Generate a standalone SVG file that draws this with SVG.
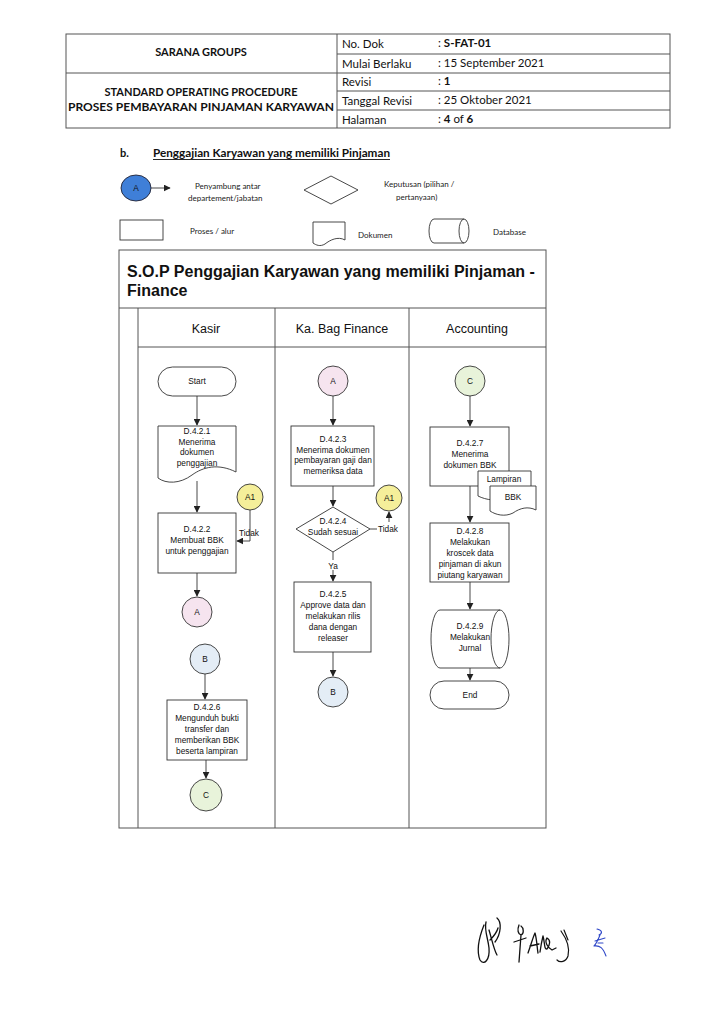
<svg xmlns="http://www.w3.org/2000/svg" width="719" height="1024" viewBox="0 0 719 1024">
<defs>
<marker id="ah" viewBox="0 0 10 10" refX="9" refY="5" markerWidth="7" markerHeight="7" orient="auto" markerUnits="userSpaceOnUse"><path d="M0,0 L10,5 L0,10 Z" fill="#222"/></marker>
<style>
.hd{font-family:Lato,"Open Sans","Liberation Sans",sans-serif;font-size:11.5px;fill:#111}
.hb{font-family:Lato,"Open Sans","Liberation Sans",sans-serif;font-size:11px;font-weight:bold;fill:#111}
.lg{font-family:Lato,"Open Sans","Liberation Sans",sans-serif;font-size:8px;fill:#222}
.ft{font-family:"Liberation Sans",Arial,sans-serif;font-size:8.3px;fill:#111;text-anchor:middle}
.fs{font-family:"Liberation Sans",Arial,sans-serif;font-size:8.3px;fill:#111;text-anchor:start}
.ln{font-family:"Liberation Sans",Arial,sans-serif;font-size:12.5px;fill:#111;text-anchor:middle}
.tb{stroke:#555;stroke-width:1;fill:none}
.sh{stroke:#333;stroke-width:0.9;fill:#fff}
.cn{stroke:#333;stroke-width:0.9;fill:none}
.ar{stroke:#333;stroke-width:0.9;fill:none;marker-end:url(#ah)}
</style>
</defs>
<rect width="719" height="1024" fill="#fff"/>
<g id="header">
<rect x="66" y="34" width="604" height="94" class="tb"/>
<line x1="337" y1="34" x2="337" y2="128" class="tb"/>
<line x1="66" y1="73" x2="670" y2="73" class="tb"/>
<line x1="337" y1="54" x2="670" y2="54" class="tb"/>
<line x1="337" y1="91" x2="670" y2="91" class="tb"/>
<line x1="337" y1="110" x2="670" y2="110" class="tb"/>
<text x="201" y="56" class="hb" text-anchor="middle">SARANA GROUPS</text>
<text x="201" y="96" class="hb" text-anchor="middle">STANDARD OPERATING PROCEDURE</text>
<text x="201" y="111" class="hb" text-anchor="middle" textLength="266" lengthAdjust="spacingAndGlyphs">PROSES PEMBAYARAN PINJAMAN KARYAWAN</text>
<text x="342" y="48" class="hd">No. Dok</text>
<text x="342" y="68" class="hd">Mulai Berlaku</text>
<text x="342" y="86" class="hd">Revisi</text>
<text x="342" y="105" class="hd">Tanggal Revisi</text>
<text x="342" y="124" class="hd">Halaman</text>
<text x="438" y="47" class="hd">: <tspan font-weight="bold">S-FAT-01</tspan></text>
<text x="438" y="67" class="hd">: 15 September 2021</text>
<text x="438" y="85" class="hd">: <tspan font-weight="bold">1</tspan></text>
<text x="438" y="104" class="hd">: 25 Oktober 2021</text>
<text x="438" y="123" class="hd">: <tspan font-weight="bold">4</tspan> of <tspan font-weight="bold">6</tspan></text>
</g>
<g id="subtitle">
<text x="120" y="157" class="hb" font-size="12">b.</text>
<text x="153" y="157" class="hb" font-size="12" textLength="237" lengthAdjust="spacingAndGlyphs">Penggajian Karyawan yang memiliki Pinjaman</text>
<line x1="153" y1="159.5" x2="390" y2="159.5" stroke="#111" stroke-width="0.9"/>
</g>
<g id="legend">
<ellipse cx="136" cy="188" rx="15" ry="13" fill="#3f7fd8" stroke="#223" stroke-width="0.9"/>
<text x="136" y="191" class="ft" font-size="7">A</text>
<line x1="151" y1="188" x2="170" y2="188" class="ar"/>
<text x="195" y="189" class="lg">Penyambung antar</text>
<text x="188" y="201" class="lg">departement/jabatan</text>
<path d="M304,190 L331,176 L358,190 L331,204 Z" class="sh"/>
<text x="384" y="187" class="lg">Keputusan (pilihan /</text>
<text x="396" y="200" class="lg">pertanyaan)</text>
<rect x="120" y="220" width="43" height="20" class="sh"/>
<text x="190" y="234" class="lg">Proses / alur</text>
<path d="M313,222 H345 V240 C338,236 330,240 325,244 C320,247 316,245 313,243 Z" class="sh"/>
<text x="358" y="238" class="lg">Dokumen</text>
<path d="M434,219 H464 A5,12 0 0 1 464,243 H434 A5,12 0 0 1 434,219 Z" class="sh"/>
<path d="M464,219 A5,12 0 0 0 464,243" class="cn"/>
<text x="493" y="235" class="lg">Database</text>
</g>
<g id="frame">
<rect x="119" y="250" width="427" height="578" class="tb" stroke="#444"/>
<line x1="119" y1="308" x2="546" y2="308" class="tb" stroke="#333"/>
<line x1="138" y1="347" x2="546" y2="347" class="tb"/>
<line x1="138" y1="308" x2="138" y2="828" class="tb"/>
<line x1="275" y1="308" x2="275" y2="828" class="tb"/>
<line x1="409" y1="308" x2="409" y2="828" class="tb"/>
<text x="127" y="277" font-family="Liberation Sans,Arial,sans-serif" font-size="16" font-weight="bold" fill="#111">S.O.P Penggajian Karyawan yang memiliki Pinjaman -</text>
<text x="127" y="296" font-family="Liberation Sans,Arial,sans-serif" font-size="16" font-weight="bold" fill="#111">Finance</text>
<text x="206" y="333" class="ln">Kasir</text>
<text x="342" y="333" class="ln">Ka. Bag Finance</text>
<text x="477" y="333" class="ln">Accounting</text>
</g>
<g id="connectors">
<line x1="197" y1="396" x2="197" y2="425" class="ar"/>
<line x1="197" y1="481" x2="197" y2="512" class="ar"/>
<polyline points="250,510 250,541 237,541" class="ar"/>
<line x1="197" y1="573" x2="197" y2="596" class="ar"/>
<line x1="205" y1="674" x2="205" y2="699" class="ar"/>
<line x1="206" y1="760" x2="206" y2="778" class="ar"/>
<line x1="333" y1="396" x2="333" y2="425" class="ar"/>
<line x1="333" y1="486" x2="333" y2="506" class="ar"/>
<polyline points="370,529 377,529" class="cn"/>
<line x1="389" y1="522" x2="389" y2="512" class="ar"/>
<line x1="333" y1="552" x2="333" y2="560" class="cn"/>
<line x1="333" y1="570" x2="333" y2="581" class="ar"/>
<line x1="333" y1="652" x2="333" y2="676" class="ar"/>
<line x1="470" y1="396" x2="470" y2="426" class="ar"/>
<line x1="470" y1="486" x2="470" y2="522" class="ar"/>
<line x1="470" y1="582" x2="470" y2="609" class="ar"/>
<line x1="470" y1="668" x2="470" y2="680" class="ar"/>
<text x="239" y="536" class="fs">Tidak</text>
<text x="378" y="532" class="fs">Tidak</text>
<text x="333" y="569" class="ft">Ya</text>
</g>
<g id="start">
<rect x="158" y="367" width="78" height="29" rx="14.5" class="sh"/>
<text x="197" y="384" class="ft">Start</text>
</g>
<g id="d421">
<path d="M158,426 H236 V472 C218,463 203,467 192,475 C180,484 166,484 158,478 Z" class="sh"/>
<text x="197" y="434" class="ft">D.4.2.1</text>
<text x="197" y="444.5" class="ft">Menerima</text>
<text x="197" y="455" class="ft">dokumen</text>
<text x="197" y="465.5" class="ft">penggajian</text>
</g>
<g id="d422">
<rect x="158" y="513" width="78" height="60" class="sh"/>
<text x="197" y="532" class="ft">D.4.2.2</text>
<text x="197" y="543" class="ft">Membuat BBK</text>
<text x="197" y="554" class="ft">untuk penggajian</text>
</g>
<g id="a1-kasir">
<circle cx="250" cy="497" r="13" fill="#f5ef9a" stroke="#333" stroke-width="0.9"/>
<text x="250" y="500" class="ft">A1</text>
</g>
<g id="a-kasir">
<circle cx="197" cy="612" r="15" fill="#f6e4ef" stroke="#333" stroke-width="0.9"/>
<text x="197" y="615" class="ft">A</text>
</g>
<g id="b-kasir">
<circle cx="205" cy="659" r="15" fill="#e4edf6" stroke="#333" stroke-width="0.9"/>
<text x="205" y="662" class="ft">B</text>
</g>
<g id="d426">
<rect x="167" y="700" width="80" height="60" class="sh"/>
<text x="207" y="710" class="ft">D.4.2.6</text>
<text x="207" y="721" class="ft">Mengunduh bukti</text>
<text x="207" y="732" class="ft">transfer dan</text>
<text x="207" y="743" class="ft">memberikan BBK</text>
<text x="207" y="754" class="ft">beserta lampiran</text>
</g>
<g id="c-kasir">
<circle cx="206" cy="795" r="16" fill="#e8f3da" stroke="#333" stroke-width="0.9"/>
<text x="206" y="798" class="ft">C</text>
</g>
<g id="a-finance">
<circle cx="333" cy="381" r="15" fill="#f6e4ef" stroke="#333" stroke-width="0.9"/>
<text x="333" y="384" class="ft">A</text>
</g>
<g id="d423">
<rect x="291" y="426" width="83" height="60" class="sh"/>
<text x="333" y="442" class="ft">D.4.2.3</text>
<text x="333" y="452.5" class="ft">Menerima dokumen</text>
<text x="333" y="463" class="ft">pembayaran gaji dan</text>
<text x="333" y="473.5" class="ft">memeriksa data</text>
</g>
<g id="d424">
<path d="M296,529 L333,507 L370,529 L333,552 Z" class="sh"/>
<text x="333" y="524" class="ft">D.4.2.4</text>
<text x="333" y="535" class="ft">Sudah sesuai</text>
</g>
<g id="a1-finance">
<circle cx="389" cy="498" r="13" fill="#f5ef9a" stroke="#333" stroke-width="0.9"/>
<text x="389" y="501" class="ft">A1</text>
</g>
<g id="d425">
<rect x="294" y="582" width="77" height="70" class="sh"/>
<text x="333" y="597" class="ft">D.4.2.5</text>
<text x="333" y="608" class="ft">Approve data dan</text>
<text x="333" y="619" class="ft">melakukan rilis</text>
<text x="333" y="630" class="ft">dana dengan</text>
<text x="333" y="641" class="ft">releaser</text>
</g>
<g id="b-finance">
<circle cx="333" cy="692" r="15" fill="#e4edf6" stroke="#333" stroke-width="0.9"/>
<text x="333" y="695" class="ft">B</text>
</g>
<g id="c-accounting">
<circle cx="470" cy="381" r="15" fill="#e8f3da" stroke="#333" stroke-width="0.9"/>
<text x="470" y="384" class="ft">C</text>
</g>
<g id="d427">
<rect x="430" y="427" width="79" height="59" class="sh"/>
<text x="470" y="446" class="ft">D.4.2.7</text>
<text x="470" y="457" class="ft">Menerima</text>
<text x="470" y="468" class="ft">dokumen BBK</text>
</g>
<g id="lampiran">
<path d="M478,471 H531 V494 C522,490 513,492 506,497 C498,502 486,500 478,496 Z" class="sh"/>
<text x="504" y="482" class="ft">Lampiran</text>
</g>
<g id="bbk">
<path d="M490,486 H536 V510 C528,506 520,508 513,513 C505,517 496,515 490,511 Z" class="sh"/>
<text x="513" y="500" class="ft">BBK</text>
</g>
<g id="d428">
<rect x="430" y="523" width="79" height="59" class="sh"/>
<text x="470" y="534" class="ft">D.4.2.8</text>
<text x="470" y="545" class="ft">Melakukan</text>
<text x="470" y="556" class="ft">kroscek data</text>
<text x="470" y="567" class="ft">pinjaman di akun</text>
<text x="470" y="578" class="ft">piutang karyawan</text>
</g>
<g id="d429">
<path d="M440,610 H500 A9,29 0 0 1 500,668 H440 A9,29 0 0 1 440,610 Z" class="sh"/>
<path d="M500,610 A9,29 0 0 0 500,668" class="cn"/>
<text x="470" y="629" class="ft">D.4.2.9</text>
<text x="470" y="640" class="ft">Melakukan</text>
<text x="470" y="651" class="ft">Jurnal</text>
</g>
<g id="end">
<rect x="430" y="681" width="79" height="28" rx="14" class="sh"/>
<text x="470" y="698" class="ft">End</text>
</g>
<g id="signatures" fill="none" stroke-linecap="round" stroke-linejoin="round">
<path d="M484,925 C480,935 476,950 480,960 C484,966 490,960 489,948 C488,938 484,930 486,922 M489,930 C492,940 494,950 497,955 M490,940 C494,936 497,932 498,928 M497,918 C502,922 501,934 495,942" stroke="#111" stroke-width="1.3"/>
<path d="M519,925 C517,930 518,934 521,935 C524,934 524,928 521,926 M521,935 L519,962 M514,942 L526,938" stroke="#111" stroke-width="1.3"/>
<path d="M528,953 C531,945 533,937 535,933 C537,940 537,948 538,953 M530,946 L539,944 M540,952 C541,945 542,940 543,936 C545,943 544,950 547,949 C550,945 551,940 547,938 C544,942 548,948 552,950 L556,948" stroke="#111" stroke-width="1.3"/>
<path d="M561,931 C566,938 570,948 568,956 C566,962 560,963 557,960 M564,930 L568,940" stroke="#111" stroke-width="1.2"/>
<path d="M597,929 C602,930 603,933 599,935 M595,941 L605,938 M600,935 C598,940 596,944 594,946 C600,945 603,948 606,956 M598,943 L603,943" stroke="#3048c8" stroke-width="1.1"/>
</g>
</svg>
